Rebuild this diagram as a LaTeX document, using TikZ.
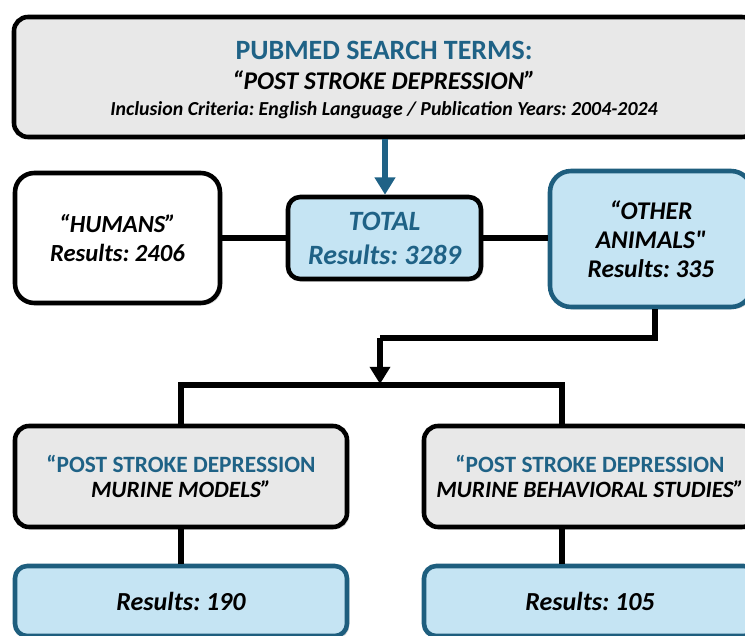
\documentclass[tikz,border=0pt]{standalone}
\usepackage{fontspec}
\setmainfont{Carlito}
\usepackage{tikz}
\usetikzlibrary{arrows.meta,shadows}
\definecolor{pubteal}{RGB}{31,98,134}
\definecolor{boxblue}{RGB}{197,228,243}
\definecolor{boxgray}{RGB}{232,232,232}
\definecolor{rimblue}{RGB}{30,94,126}
\newcommand{\bigbi}{\fontsize{14}{16.4}\selectfont\bfseries\itshape}
\newcommand{\straightq}{{\addfontfeatures{Ligatures=TeXOff}"}}
\frenchspacing

\begin{document}
\begin{tikzpicture}[
  card/.style={draw,line width=2.6pt,rounded corners=8pt,align=center,inner sep=0pt,
    drop shadow={shadow xshift=1.3pt,shadow yshift=-1.3pt,opacity=.3}},
  link/.style={line width=3.6pt},
  flow/.style={line width=3.6pt,-{Triangle[width=11.3pt,length=9.8pt]}}]
\useasboundingbox (0,0) rectangle (14.9,12.7);
\clip (0,0) rectangle (14.9,12.7);
% search terms
\node(0) at (7.70,11.16)[card,fill=boxgray,minimum width=14.84cm,minimum height=2.40cm] {};
\node(8) at (7.68,11.50)[anchor=base,text=pubteal,font=\fontsize{15.9}{18}\selectfont\bfseries] {PUBMED SEARCH TERMS:};
\node(9) at (7.68,10.90)[anchor=base,font=\fontsize{14.5}{17}\selectfont\bfseries\itshape] {“POST STROKE DEPRESSION”};
\node(10) at (7.68,10.38)[anchor=base,font=\fontsize{11.3}{13}\selectfont\bfseries\itshape] {Inclusion Criteria: English Language / Publication Years: 2004-2024};
% first split
\node(1) at (2.35,7.94)[card,fill=white,rounded corners=11pt,minimum width=4.10cm,minimum height=2.60cm,font=\bigbi] {“HUMANS”\\Results: 2406};
\node(2) at (7.69,7.94)[card,fill=boxblue,rounded corners=7pt,minimum width=3.86cm,minimum height=1.64cm,text=pubteal,font=\fontsize{15.9}{19.3}\selectfont\bfseries\itshape] {TOTAL\\Results: 3289};
\node(3) at (13.02,7.92)[card,fill=boxblue,draw=rimblue,rounded corners=12pt,minimum width=4.04cm,minimum height=2.72cm,font=\fontsize{14.5}{16.4}\selectfont\bfseries\itshape] {“OTHER\\ANIMALS\straightq\\Results: 335};
% murine searches
\node(4) at (3.62,3.17)[card,fill=boxgray,minimum width=6.64cm,minimum height=2.02cm,font=\fontsize{13.3}{14.6}\selectfont\bfseries] {{\color{pubteal}“POST STROKE DEPRESSION}\\{\itshape MURINE MODELS”}};
\node(5) at (11.80,3.17)[card,fill=boxgray,minimum width=6.64cm,minimum height=2.02cm,font=\fontsize{13.3}{14.6}\selectfont\bfseries] {{\color{pubteal}“POST STROKE DEPRESSION}\\{\itshape MURINE BEHAVIORAL STUDIES”}};
\node(6) at (3.62,0.68)[card,fill=boxblue,draw=rimblue,rounded corners=7pt,minimum width=6.64cm,minimum height=1.40cm,font=\fontsize{14.8}{16}\selectfont\bfseries\itshape] {Results: 190};
\node(7) at (11.80,0.68)[card,fill=boxblue,draw=rimblue,rounded corners=7pt,minimum width=6.64cm,minimum height=1.40cm,font=\fontsize{14.8}{16}\selectfont\bfseries\itshape] {Results: 105};
\coordinate (elbow) at (7.60,5.94);
\coordinate (fork) at (7.60,5.02);
\coordinate (forkL) at (3.62,5.00);
\coordinate (forkR) at (11.24,5.00);
% connectors
\draw[flow,pubteal] (0.south) -- (0.south |- 2.north);
\draw[link] (1) -- (2);
\draw[link] (2.east) -- (2.east -| 3.west);
\draw[link] ([xshift=0.08cm]3.south) |- (elbow);
\draw[flow] (elbow) -- (fork);
\draw[link] (4.north) -- (forkL) -- (forkR) -- (forkR |- 5.north);
\draw[link] (4) -- (6);
\draw[link] (forkR |- 5.south) -- (forkR |- 7.north);
\end{tikzpicture}
\end{document}
